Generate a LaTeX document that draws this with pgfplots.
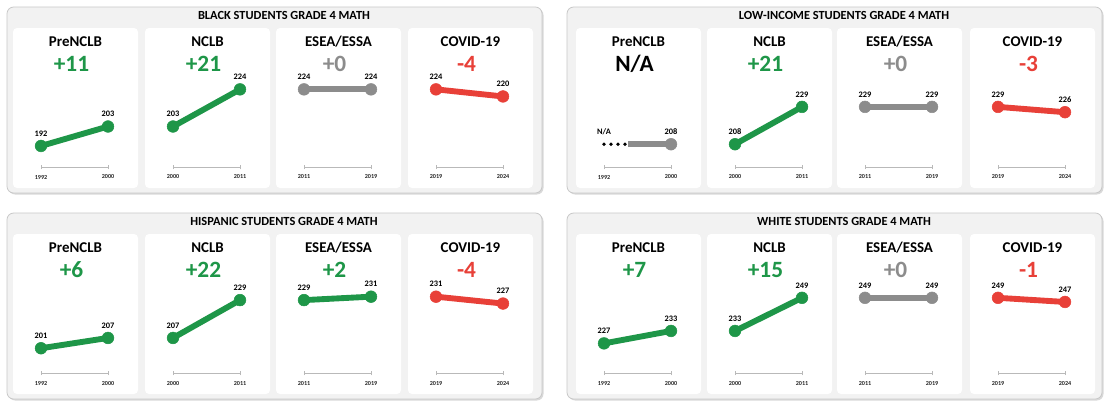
\documentclass[border=0pt]{standalone}
\usepackage{fontspec}
\setmainfont{Carlito}
\usepackage{pgfplots}
\pgfplotsset{compat=1.18}
\definecolor{grn}{RGB}{30,150,72}
\definecolor{red2}{RGB}{232,64,56}
\definecolor{gry}{RGB}{140,140,140}
\definecolor{panelbg}{RGB}{242,242,242}
\definecolor{panelbd}{RGB}{200,200,200}
\newcommand\hdrfont{\bfseries\fontsize{11.2}{13}\selectfont}
\newcommand\valfont{\bfseries\fontsize{17.5}{20}\selectfont}
\newcommand\titfont{\bfseries\fontsize{9.3}{11}\selectfont}
\newcommand\lblfont{\bfseries\fontsize{6.3}{7}\selectfont}
\newcommand\yrfont{\bfseries\fontsize{4.6}{5}\selectfont}
\pgfplotsset{
 cardaxis/.style={
  scale only axis, width=50.25pt, height=65.25pt, anchor=south west,
  xmin=0, xmax=1, clip=false,
  axis x line=bottom, axis y line=none,
  axis line style={-, draw=gray!55, line width=0.5pt},
  xtick={0,1}, tick align=center, major tick length=3pt,
  tick style={gray!55, line width=0.5pt},
  xticklabel style={font=\yrfont, text=black!85, anchor=center, yshift=-6pt, inner sep=0pt},
  ytick=\empty,
  /pgf/number format/assume math mode=true,
 },
 linesty/.style={line width=4.4pt, mark=*, mark size=4.4pt, mark options={line width=0.4pt},
  nodes near coords, point meta=y,
  nodes near coords style={font=\lblfont, text=black, anchor=center, yshift=9.3pt}},
}
\newcommand\panel[3]{%
 \fill[gray!30, rounded corners=5pt] (#1+1.5,#2+1.5) rectangle ++(535,186);
 \filldraw[fill=panelbg, draw=panelbd, line width=0.6pt, rounded corners=5pt] (#1,#2) rectangle ++(535,186);
 \node[font=\titfont, anchor=base] at (#1+277,#2+12.8) {#3};}
\newcommand\cardbg[5]{%
 \fill[white, rounded corners=3pt] (#1,#2) rectangle ++(125,160);
 \node[font=\hdrfont, anchor=base] at (#1+62.5,#2+18.5) {#3};
 \node[font=\valfont, text=#5, anchor=base] at (#1+58.5,#2+43) {#4};}
\newcommand\cardplot[8]{%
 \begin{axis}[cardaxis, at={({(#1+28)*0.75pt},{-(#2+139)*0.75pt})}, ymin=#3, ymax=#4, xticklabels={#5,#6}]
 \addplot[linesty, #7] coordinates {#8};
 \end{axis}}
\begin{document}
\begin{tikzpicture}[x=0.75pt, y=-0.75pt]
\fill[white] (0,0) rectangle (1105,401);
\path[use as bounding box] (0,0) rectangle (1105,401);
\panel{7}{7}{BLACK STUDENTS GRADE 4 MATH}
\panel{567}{7}{LOW-INCOME STUDENTS GRADE 4 MATH}
\panel{7}{213}{HISPANIC STUDENTS GRADE 4 MATH}
\panel{567}{213}{WHITE STUDENTS GRADE 4 MATH}
% Black
\cardbg{13}{28}{PreNCLB}{+11}{grn}
\cardbg{145}{28}{NCLB}{+21}{grn}
\cardbg{276}{28}{ESEA/ESSA}{+0}{gry}
\cardbg{408}{28}{COVID-19}{-4}{red2}
\cardplot{13}{28}{180.1}{229.3}{1992}{2000}{grn}{(0,192) (1,203)}
\cardplot{145}{28}{180.1}{229.3}{2000}{2011}{grn}{(0,203) (1,224)}
\cardplot{276}{28}{180.1}{229.3}{2011}{2019}{gry}{(0,224) (1,224)}
\cardplot{408}{28}{180.1}{229.3}{2019}{2024}{red2}{(0,224) (1,220)}
% Low-income
\cardbg{576}{28}{PreNCLB}{N/A}{black}
\cardbg{707}{28}{NCLB}{+21}{grn}
\cardbg{837}{28}{ESEA/ESSA}{+0}{gry}
\cardbg{970}{28}{COVID-19}{-3}{red2}
\begin{axis}[cardaxis, at={({(576+28)*0.75pt},{-(28+139)*0.75pt})}, ymin=195.2, ymax=244.1, xticklabels={1992,2000}]
\addplot[black, line width=2.8pt, line cap=round, dash pattern=on 0pt off 5.25pt] coordinates {(0,208) (0.32,208)};
\addplot[gry, line width=4.4pt] coordinates {(0.36,208) (1,208)};
\addplot[linesty, gry] coordinates {(1,208)};
\node[font=\lblfont, anchor=center, yshift=9.3pt] at (axis cs:0,208) {N/A};
\end{axis}
\cardplot{707}{28}{195.2}{244.1}{2000}{2011}{grn}{(0,208) (1,229)}
\cardplot{837}{28}{195.2}{244.1}{2011}{2019}{gry}{(0,229) (1,229)}
\cardplot{970}{28}{195.2}{244.1}{2019}{2024}{red2}{(0,229) (1,226)}
% Hispanic
\cardbg{13}{234}{PreNCLB}{+6}{grn}
\cardbg{145}{234}{NCLB}{+22}{grn}
\cardbg{276}{234}{ESEA/ESSA}{+2}{grn}
\cardbg{408}{234}{COVID-19}{-4}{red2}
\cardplot{13}{234}{186.6}{237.2}{1992}{2000}{grn}{(0,201) (1,207)}
\cardplot{145}{234}{186.6}{237.2}{2000}{2011}{grn}{(0,207) (1,229)}
\cardplot{276}{234}{186.6}{237.2}{2011}{2019}{grn}{(0,229) (1,231)}
\cardplot{408}{234}{186.6}{237.2}{2019}{2024}{red2}{(0,231) (1,227)}
% White
\cardbg{576}{234}{PreNCLB}{+7}{grn}
\cardbg{707}{234}{NCLB}{+15}{grn}
\cardbg{837}{234}{ESEA/ESSA}{+0}{gry}
\cardbg{970}{234}{COVID-19}{-1}{red2}
\cardplot{576}{234}{212.7}{254.7}{1992}{2000}{grn}{(0,227) (1,233)}
\cardplot{707}{234}{212.7}{254.7}{2000}{2011}{grn}{(0,233) (1,249)}
\cardplot{837}{234}{212.7}{254.7}{2011}{2019}{gry}{(0,249) (1,249)}
\cardplot{970}{234}{212.7}{254.7}{2019}{2024}{red2}{(0,249) (1,247)}
\end{tikzpicture}
\end{document}
